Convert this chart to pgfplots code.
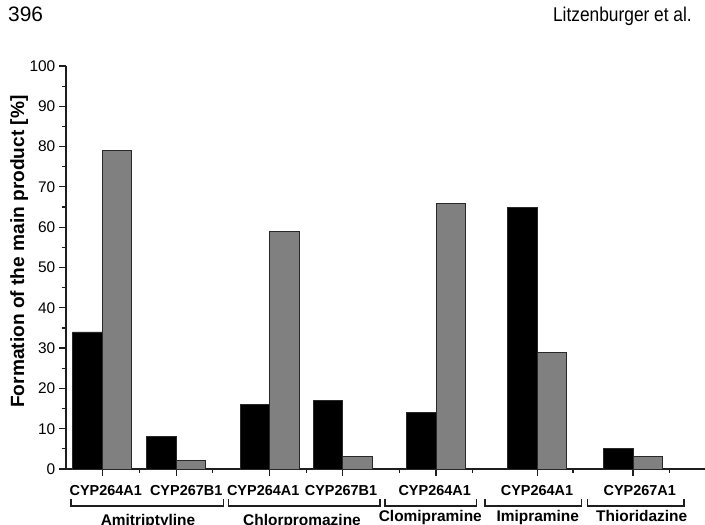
\documentclass[border=0pt]{standalone}
\usepackage{fontspec}
\setmainfont{Liberation Sans}
\usepackage{pgfplots}
\usepackage{pgfplotstable}
\pgfplotsset{compat=1.18}

\definecolor{barblack}{RGB}{0,0,0}
\definecolor{bargray}{RGB}{128,128,128}
\definecolor{edge}{RGB}{40,40,40}
\definecolor{axiscol}{RGB}{30,30,30}

% position of each enzyme pair along the axis, first-series and second-series values
\pgfplotstableread{
pos    first second
36.6   34    79
110.6  8     2
204.0  16    59
276.8  17    3
370.2  14    66
471.4  65    29
567.2  5     3
}\yields

\begin{document}
\begin{tikzpicture}[x=1bp,y=1bp]
\useasboundingbox (0,0) rectangle (705,525);
\clip (0,0) rectangle (705,525);

% running head
\node[anchor=base west, inner sep=0, font=\fontsize{21}{23}\selectfont] at (8,503) {396};
\node[anchor=base east, inner sep=0, font=\fontsize{20}{22}\selectfont, xscale=0.87] at (692,503) {Litzenburger et al.};

\begin{axis}[
  scale only axis,
  width=639.2bp, height=403bp,
  at={(65.8bp,56bp)}, anchor=south west,
  xmin=0, xmax=639.2, ymin=0, ymax=100,
  axis x line*=bottom, axis y line*=left,
  axis line style={line width=1.4bp, color=axiscol},
  tick align=outside,
  major tick length=7bp, minor tick length=4bp,
  every tick/.style={line width=1.2bp, color=axiscol},
  ytick={0,10,...,100}, minor y tick num=1,
  xtick={36.6,110.6,204.0,276.8,370.2,471.4,567.2},
  xticklabels={},
  minor xtick={73.6,146.6,240.6,333.8,406.8,507.2,603.6},
  y tick label style={font=\fontsize{15.5}{17}\selectfont},
  /pgf/number format/assume math mode=true,
  ybar, bar width=29.5,
  clip=false,
]
\addplot[fill=barblack, draw=edge, line width=0.9bp, bar shift=-14.75] table[x=pos, y=first] {\yields};
\addplot[fill=bargray, draw=edge, line width=0.9bp, bar shift=14.75] table[x=pos, y=second] {\yields};
\end{axis}

% y axis title
\node[rotate=90, anchor=base, inner sep=0, font=\fontsize{19.2}{21}\selectfont\bfseries] at (24,273.5) {Formation of the main product [\%]};

% enzyme names under the bar pairs
\begin{scope}[every node/.style={anchor=base, inner sep=0, font=\fontsize{14.5}{16}\selectfont\bfseries}]
  \node at (105.8,29.5) {CYP264A1};
  \node at (186.2,29.5) {CYP267B1};
  \node at (263.2,29.5) {CYP264A1};
  \node at (341.0,29.5) {CYP267B1};
  \node at (434.7,29.5) {CYP264A1};
  \node at (537.0,29.5) {CYP264A1};
  \node at (639.7,29.5) {CYP267A1};
\end{scope}

% substrate brackets
\begin{scope}[line width=1.2bp, color=axiscol]
  \draw (71,26) -- (71,19) -- (223.3,19) -- (223.3,26);
  \draw (228.3,26) -- (228.3,19) -- (380,19) -- (380,26);
  \draw (385,26) -- (385,19) -- (476.7,19) -- (476.7,26);
  \draw (485,26) -- (485,19) -- (581.7,19) -- (581.7,26);
  \draw (587.3,26) -- (587.3,19) -- (684,19) -- (684,26);
\end{scope}

% substrate names
\begin{scope}[every node/.style={anchor=base, inner sep=0, font=\fontsize{15.5}{17}\selectfont\bfseries}]
  \node at (148,-1) {Amitriptyline};
  \node at (302,-1) {Chlorpromazine};
  \node at (430.3,3) {Clomipramine};
  \node at (537.7,3) {Imipramine};
  \node at (641.7,3) {Thioridazine};
\end{scope}
\end{tikzpicture}
\end{document}
